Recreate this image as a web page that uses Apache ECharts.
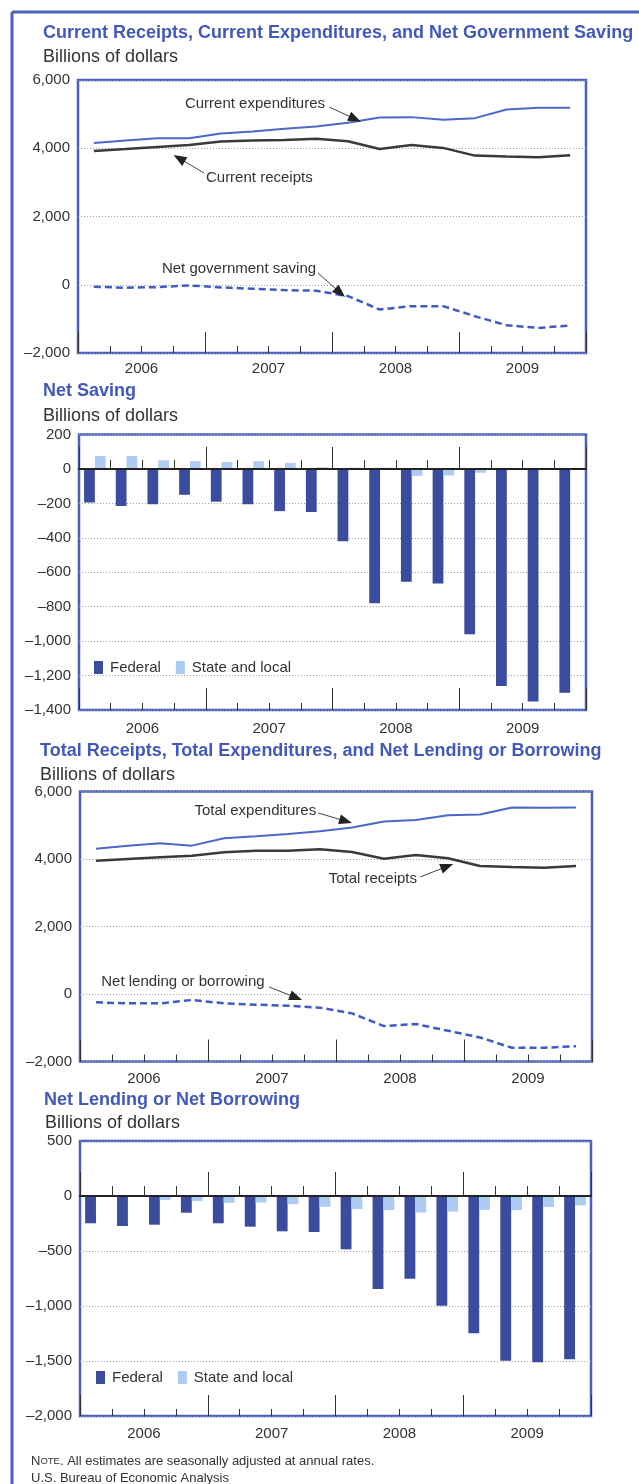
<!DOCTYPE html>
<html><head><meta charset="utf-8">
<script src="https://cdn.jsdelivr.net/npm/echarts/dist/echarts.min.js"></script>
<style>html,body{margin:0;padding:0;background:#fff}#c{width:639px;height:1484px}</style>
</head><body><div id="c"></div>
<script>
// ---------- data ----------
const quarters = ['2006Q1','2006Q2','2006Q3','2006Q4','2007Q1','2007Q2','2007Q3','2007Q4',
                  '2008Q1','2008Q2','2008Q3','2008Q4','2009Q1','2009Q2','2009Q3','2009Q4'];
const years = ['2006','2007','2008','2009'];

const currentExpenditures = [4157, 4225, 4294, 4294, 4431, 4490, 4569, 4637, 4745, 4902, 4912, 4833, 4882, 5137, 5186, 5186];
const currentReceipts     = [3922, 3980, 4039, 4098, 4196, 4225, 4245, 4275, 4206, 3980, 4098, 4010, 3784, 3755, 3735, 3794];
const netGovSaving        = [-59, -88, -69, -20, -78, -118, -157, -176, -333, -725, -627, -627, -922, -1186, -1265, -1196];

const federalSaving = [-195, -215, -205, -150, -190, -205, -245, -250, -420, -780, -655, -665, -960, -1260, -1350, -1300];
const stateSaving   = [75, 75, 50, 45, 40, 45, 35, 10, 8, 8, -40, -38, -22, 6, 5, 2];

const totalExpenditures = [4307, 4396, 4465, 4396, 4614, 4673, 4743, 4822, 4931, 5109, 5158, 5297, 5317, 5525, 5515, 5525];
const totalReceipts     = [3950, 4000, 4050, 4099, 4198, 4248, 4248, 4287, 4208, 4010, 4119, 4020, 3792, 3762, 3743, 3792];
const netLending        = [-248, -277, -277, -178, -277, -317, -347, -406, -574, -950, -891, -1089, -1287, -1594, -1594, -1545];

const federalLending = [-248, -273, -261, -152, -248, -279, -321, -327, -485, -845, -752, -997, -1248, -1497, -1512, -1485];
const stateLending   = [-3, -8, -36, -45, -62, -60, -74, -98, -118, -128, -150, -142, -126, -128, -100, -85];

const titles = [
  'Current Receipts, Current Expenditures, and Net Government Saving',
  'Net Saving',
  'Total Receipts, Total Expenditures, and Net Lending or Borrowing',
  'Net Lending or Net Borrowing'
];
const unitLabel = 'Billions of dollars';

// ---------- styles ----------
const SANS = '"Liberation Sans",Arial,Helvetica,sans-serif';
const BLUE_FRAME = '#4a5fc0';
const TITLE_BLUE = '#4259b9';
const TXT = '#333';
const FED = '#3b4c9e';
const STATE = '#aecbf4';

const panels = [
  {top:80,    height:273,   left:78, right:53, min:-2000, max:6000, interval:2000, margin:8,  zero:false,
   titleXY:[43,33], subXY:[43,57], minorLen:7, majorLen:21},
  {top:434.5, height:275.5, left:79, right:53, min:-1400, max:200,  interval:200,  margin:11, zero:true,
   titleXY:[43,391], subXY:[43,416], minorLen:7, majorLen:22, zMinor:9, zMajor:22},
  {top:791.5, height:270,   left:80, right:47, min:-2000, max:6000, interval:2000, margin:10, zero:false,
   titleXY:[40,751], subXY:[40,775], minorLen:7, majorLen:22},
  {top:1141,  height:275,   left:80, right:48, min:-2000, max:500,  interval:500,  margin:10, zero:true,
   titleXY:[44,1100], subXY:[45,1123], minorLen:7, majorLen:21, zMinor:10, zMajor:24}
];

const fmt = v => (v < 0 ? '\u2013' : '') + Math.abs(v).toLocaleString('en-US');

const grids = [], xAxes = [], yAxes = [], qAxisIdx = [];
panels.forEach((p, g) => {
  grids.push({left:p.left, right:p.right, top:p.top, height:p.height, show:true,
    borderColor:BLUE_FRAME, borderWidth:2.5, containLabel:false, outerBoundsMode:'none'});
  yAxes.push({gridIndex:g, type:'value', min:p.min, max:p.max, interval:p.interval,
    axisLine:{show:false}, axisTick:{show:false},
    axisLabel:{formatter:fmt, fontFamily:SANS, fontSize:15, color:TXT, margin:8},
    splitLine:{show:true, lineStyle:{color:'#a0a0a0', type:[1,2], width:1}}});
  const tickAxis = (len, interval, onZero) => {
    const axisLine = {show:onZero, onZero:onZero, lineStyle:{color:'#222', width:2}};
    if (onZero) axisLine.onZeroAxisIndex = g;
    return {
      gridIndex:g, type:'category', data:quarters, boundaryGap:true, position:'bottom', z:onZero?10:3,
      axisLine,
      axisTick:{show:true, inside:true, length:len, interval:interval, lineStyle:{color:'#333', width:1}},
      axisLabel:{show:false}, splitLine:{show:false}
    };
  };
  qAxisIdx.push(xAxes.length);
  xAxes.push(tickAxis(p.minorLen, 0, false));
  xAxes.push(tickAxis(p.majorLen, 3, false));
  xAxes.push({gridIndex:g, type:'category', data:years, position:'bottom',
    axisLine:{show:false, onZero:false}, axisTick:{show:false},
    axisLabel:{margin:p.margin, fontFamily:SANS, fontSize:15, color:TXT}, splitLine:{show:false}});
  if (p.zero) {
    xAxes.push(tickAxis(p.zMinor, 0, true));
    xAxes.push(tickAxis(p.zMajor, 3, true));
  }
});

const lineS = (name, g, data, color, width, dashed) => ({
  name, type:'line', xAxisIndex:qAxisIdx[g], yAxisIndex:g, data, symbol:'none', smooth:false,
  lineStyle:{color, width, type: dashed ? [7,4] : 'solid'}, z:5, silent:true
});
const barS = (name, g, data, color) => ({
  name, type:'bar', xAxisIndex:qAxisIdx[g], yAxisIndex:g, data, barGap:'0%', barCategoryGap:'32%',
  itemStyle:{color}, z:4, silent:true
});

const series = [
  lineS('Current expenditures', 0, currentExpenditures, '#4b67c9', 2),
  lineS('Current receipts', 0, currentReceipts, '#3a3a3a', 2.5),
  lineS('Net government saving', 0, netGovSaving, '#3f5bc2', 2.5, true),
  barS('Federal', 1, federalSaving, FED),
  barS('State and local', 1, stateSaving, STATE),
  lineS('Total expenditures', 2, totalExpenditures, '#4b67c9', 2),
  lineS('Total receipts', 2, totalReceipts, '#3a3a3a', 2.5),
  lineS('Net lending or borrowing', 2, netLending, '#3f5bc2', 2.5, true),
  barS('Federal', 3, federalLending, FED),
  barS('State and local', 3, stateLending, STATE)
];

const legendStyle = (left, top) => ({
  left, top, orient:'horizontal', icon:'rect', itemWidth:9, itemHeight:13, itemGap:15,
  data:['Federal','State and local'], selectedMode:false,
  textStyle:{fontFamily:SANS, fontSize:15, color:TXT, padding:[0,0,0,2]}
});

const chart = echarts.init(document.getElementById('c'), null, {renderer:'canvas'});
chart.setOption({
  animation:false,
  backgroundColor:'#fff',
  grid:grids, xAxis:xAxes, yAxis:yAxes, series,
  legend:[legendStyle(89, 655), legendStyle(91, 1365)]
});

// ---------- annotations (anchored in data space) ----------
const annotations = [
  {g:0, text:'Current expenditures', at:[7.28, 5297], align:'right', tail:[7.41, 5209], tip:[8.41, 4778]},
  {g:0, text:'Current receipts', at:[3.53, 3128], align:'left', tail:[3.47, 3275], tip:[2.51, 3802]},
  {g:0, text:'Net government saving', at:[7.0, 462], align:'right', tail:[7.06, 344], tip:[7.91, -359]},
  {g:2, text:'Total expenditures', at:[6.88, 5422], align:'right', tail:[6.94, 5363], tip:[8.0, 5067]},
  {g:2, text:'Total receipts', at:[7.27, 3407], align:'left', tail:[10.13, 3467], tip:[11.16, 3852]},
  {g:2, text:'Net lending or borrowing', at:[5.27, 356], align:'right', tail:[5.41, 207], tip:[6.44, -178]}
];

function toPx(g, pt) {
  const xi = qAxisIdx[g];
  const i0 = Math.floor(pt[0]), f = pt[0] - i0;
  const a = chart.convertToPixel({xAxisIndex:xi}, quarters[Math.max(0, Math.min(15, i0))]);
  const b = chart.convertToPixel({xAxisIndex:xi}, quarters[Math.max(0, Math.min(15, i0 + 1))]);
  const x = a + f * (i0 + 1 <= 15 ? (b - a) : 0);
  const y = chart.convertToPixel({yAxisIndex:g}, pt[1]);
  return [x, y];
}

const graphics = [];
// outer frame
graphics.push({type:'line', shape:{x1:12, y1:12, x2:639, y2:12}, style:{stroke:BLUE_FRAME, lineWidth:3}, z:100});
graphics.push({type:'line', shape:{x1:12, y1:12, x2:12, y2:1484}, style:{stroke:BLUE_FRAME, lineWidth:3}, z:100});

panels.forEach((p, g) => {
  graphics.push({type:'text', x:p.titleXY[0], y:p.titleXY[1], z:100,
    style:{text:titles[g], font:'bold 18px ' + SANS, fill:TITLE_BLUE, verticalAlign:'middle', align:'left'}});
  graphics.push({type:'text', x:p.subXY[0], y:p.subXY[1], z:100,
    style:{text:unitLabel, font:'18px ' + SANS, fill:TXT, verticalAlign:'middle', align:'left'}});
});

annotations.forEach(a => {
  const tp = toPx(a.g, a.at), s = toPx(a.g, a.tail), t = toPx(a.g, a.tip);
  graphics.push({type:'text', x:tp[0], y:tp[1], z:100,
    style:{text:a.text, font:'15px ' + SANS, fill:TXT, verticalAlign:'middle', align:a.align}});
  const dx = t[0] - s[0], dy = t[1] - s[1], L = Math.hypot(dx, dy) || 1;
  const ux = dx / L, uy = dy / L, nx = -uy, ny = ux;
  const hl = 13, hw = 5;
  const bx = t[0] - ux * hl, by = t[1] - uy * hl;
  graphics.push({type:'line', z:100, shape:{x1:s[0], y1:s[1], x2:bx + ux*2, y2:by + uy*2},
    style:{stroke:'#444', lineWidth:1}});
  graphics.push({type:'polygon', z:100, shape:{points:[[t[0], t[1]], [bx + nx*hw, by + ny*hw], [bx - nx*hw, by - ny*hw]]},
    style:{fill:'#222'}});
});

// footnotes
graphics.push({type:'text', x:31, y:1461, z:100, style:{
  text:'{a|N}{b|OTE}{c|. All estimates are seasonally adjusted at annual rates.}', verticalAlign:'middle',
  rich:{a:{fontFamily:SANS, fontSize:13, fill:TXT}, b:{fontFamily:SANS, fontSize:9.5, fill:TXT},
        c:{fontFamily:SANS, fontSize:13, fill:TXT}}}});
graphics.push({type:'text', x:31, y:1478, z:100, style:{
  text:'U.S. Bureau of Economic Analysis', font:'13px ' + SANS, fill:TXT, verticalAlign:'middle'}});

chart.setOption({graphic:graphics});
</script></body></html>
